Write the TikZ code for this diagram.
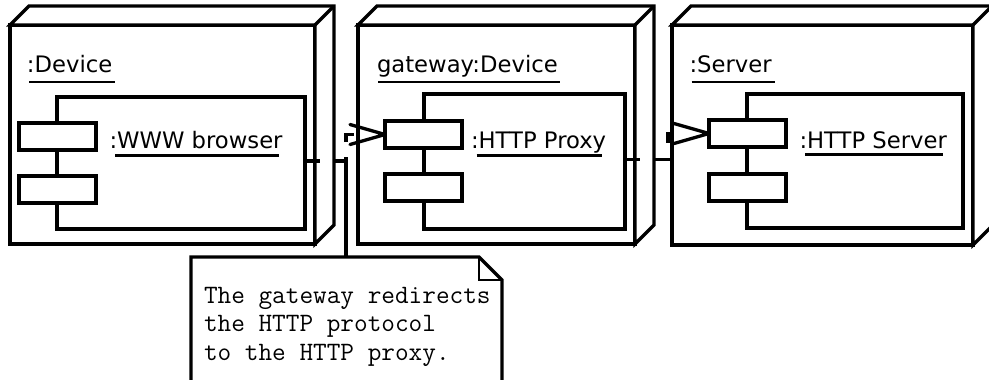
\documentclass[tikz,border=0pt]{standalone}
\usepackage{fontspec}
\setmainfont{DejaVu Sans}
\usetikzlibrary{calc}
\pgfdeclarelayer{nodeA}
\pgfdeclarelayer{connA}
\pgfdeclarelayer{nodeB}
\pgfdeclarelayer{connB}
\pgfdeclarelayer{nodeC}
\pgfsetlayers{nodeA,connA,nodeB,connB,nodeC,main}
\tikzset{
  edge3d/.style={draw, fill=white, line width=3.3pt, line join=miter},
  frontbox/.style={draw, fill=white, line width=3.3pt, inner sep=0pt, outer sep=0pt, anchor=north west},
  compbox/.style={frontbox},
  portbox/.style={frontbox, minimum width=77pt, minimum height=27pt},
  lbl/.style={inner sep=0pt, outer sep=0pt, anchor=base west, font=\fontsize{22.7}{27}\selectfont},
  thinul/.style={line width=1.2pt},
  thickul/.style={line width=3pt},
  conn/.style={line width=3.3pt, dash pattern=on 15pt off 15pt},
  barb/.style={line width=3.3pt, line join=round, line cap=round},
  notebox/.style={draw=none, inner sep=0pt, outer sep=0pt, anchor=north west, minimum width=311pt, minimum height=150pt},
  noteline/.style={line width=3.3pt, line join=miter},
  notetext/.style={inner sep=0pt, outer sep=0pt, anchor=base west, align=left, font=\ttfamily\fontsize{26.5}{28.5}\selectfont},
}
\newcommand\depthfaces[1]{%
  \draw[edge3d] (#1.north west) -- ++(19,-19) -- ($(#1.north east)+(19,-19)$) -- ($(#1.south east)+(19,-19)$) -- (#1.south east) -- (#1.north east) -- cycle;
  \draw[edge3d] (#1.north east) -- ++(19,-19);}
\begin{document}
\begin{tikzpicture}[x=1pt,y=-1pt]
\useasboundingbox (0,0) rectangle (989,380);
% ---------- node 1 ----------
\begin{pgfonlayer}{nodeA}
  \node[frontbox, minimum width=305pt, minimum height=219pt] (n1) at (10,25) {};
  \depthfaces{n1}
  \node[compbox, minimum width=248pt, minimum height=132pt] (c1) at (57,97) {};
  \node[portbox] (p1a) at (19,123) {};
  \node[portbox] (p1b) at (19,176) {};
  \node[lbl] (t1) at (27,72) {:Device};
  \draw[thinul] ($(t1.base west)+(2,10)$) -- ($(t1.base east)+(3,10)$);
  \node[lbl] (k1) at (109.5,148) {:};
  \node[lbl] (l1) at (k1.base east) {WWW browser};
  \draw[thickul] ($(l1.base west)+(-2,7)$) -- ($(l1.base east)+(-4,7)$);
\end{pgfonlayer}
% ---------- node 2 ----------
\begin{pgfonlayer}{nodeB}
  \node[frontbox, minimum width=277pt, minimum height=219pt] (n2) at (358,25) {};
  \depthfaces{n2}
  \node[compbox, minimum width=201pt, minimum height=135pt] (c2) at (424,94) {};
  \node[portbox] (p2a) at (385,121) {};
  \node[portbox] (p2b) at (385,174) {};
  \node[lbl] (t2) at (377,72) {gateway:Device};
  \draw[thinul] ($(t2.base west)+(1,10)$) -- ($(t2.base east)+(2,10)$);
  \node[lbl] (k2) at (471,148) {:};
  \node[lbl] (l2) at (k2.base east) {HTTP Proxy};
  \draw[thickul] ($(l2.base west)+(-2,7)$) -- ($(l2.base east)+(-4,7)$);
\end{pgfonlayer}
% ---------- node 3 ----------
\begin{pgfonlayer}{nodeC}
  \node[frontbox, minimum width=301pt, minimum height=220pt] (n3) at (672,25) {};
  \depthfaces{n3}
  \node[compbox, minimum width=216pt, minimum height=134pt] (c3) at (747,94) {};
  \node[portbox] (p3a) at (709,120) {};
  \node[portbox] (p3b) at (709,174) {};
  \node[lbl] (t3) at (689.5,72) {:Server};
  \draw[thinul] ($(t3.base west)+(2,10)$) -- ($(t3.base east)+(3,10)$);
  \node[lbl] (k3) at (799.5,148) {:};
  \node[lbl] (l3) at (k3.base east) {HTTP Server};
  \draw[thickul] ($(l3.base west)+(-2,6)$) -- ($(l3.base east)+(-4,6)$);
\end{pgfonlayer}
% ---------- connectors ----------
\begin{pgfonlayer}{connA}
  \draw[conn] ($(c1.east)+(0,-2)$) -- ++(41,0) coordinate (kA) |- (p2a.west);
\end{pgfonlayer}
\begin{pgfonlayer}{connB}
  \draw[conn] ($(c2.east)+(0,-2)$) -- ++(43,0) coordinate (kB) |- (p3a.west);
\end{pgfonlayer}
\draw[barb] (p2a.west) ++(-35,-10) -- (p2a.west) -- ++(-35,10);
\draw[barb] (p3a.west) ++(-35,-10) -- (p3a.west) -- ++(-35,10);
% ---------- note ----------
\node[notebox] (note) at (191,257) {};
\draw[noteline] (kA) -- (kA |- note.north);
\draw[noteline, fill=white] (note.north west) -- ($(note.north east)+(-23,0)$) -- ($(note.north east)+(0,23)$) -- (note.south east) -- (note.south west) -- cycle;
\draw[line width=1.2pt] ($(note.north east)+(-23,0)$) -- ++(0,23) -- ++(23,0);
\node[notetext] (nt) at ($(note.north west)+(13,103)$) {The gateway redirects\\the HTTP protocol\\to the HTTP proxy.};
\end{tikzpicture}
\end{document}
